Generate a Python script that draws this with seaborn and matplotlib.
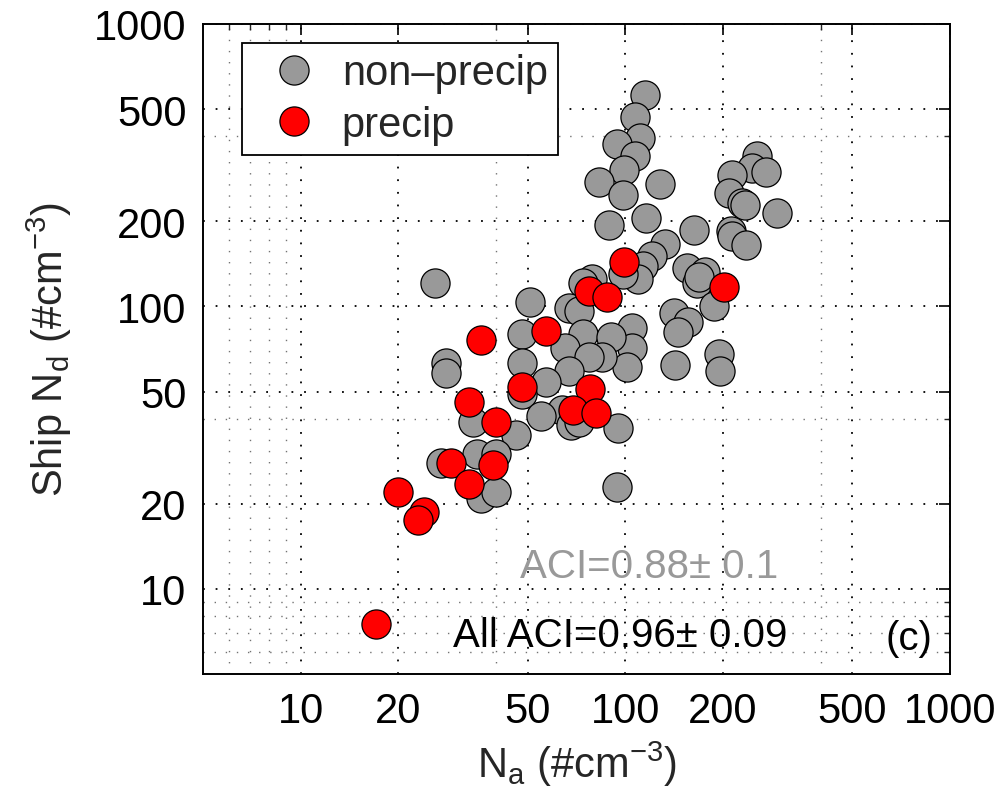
import numpy as np
import pandas as pd
import matplotlib
matplotlib.use("Agg")
import matplotlib.pyplot as plt
import seaborn as sns

# ---- data ----
nonprecip_na = [115, 107, 111, 94, 107, 99, 83, 128, 98, 116, 89, 163,
                254, 246, 271, 213, 209, 229, 233, 293, 211, 213, 236,
                132, 121, 113, 109, 98, 79, 74, 155, 166, 176, 168, 187, 141,
                156, 145, 105, 105, 101, 142, 194, 196, 95, 94,
                26, 51, 67, 72, 48, 74, 90, 65, 85, 77, 48, 67, 57, 48,
                64, 55, 68, 72, 46, 34, 28, 28, 27, 35, 40, 36, 40]
nonprecip_nd = [560, 467, 396, 375, 340, 304, 276, 271, 248, 206, 195, 186,
                341, 310, 300, 291, 253, 232, 228, 214, 185, 178, 165,
                166, 151, 139, 125, 130, 125, 121, 137, 121, 132, 127, 100, 95,
                88, 81, 84, 71, 61, 62, 68, 59, 37, 23,
                121, 104, 99, 96, 80, 80, 78, 71, 66, 66, 63, 59, 54, 49,
                43, 41, 38, 39, 35, 39, 63, 58, 28, 30, 30, 21, 22]

precip_na = [99, 77, 88, 57, 36, 48, 78, 69, 81, 33, 40, 202, 29, 39, 33, 20, 24, 23, 17]
precip_nd = [144, 113, 108, 82, 76, 52, 51, 43, 42, 46, 39, 117, 28, 27.5, 23.5, 22, 18.7, 17.6, 7.5]

groups = ["non\u2013precip", "precip"]
colors = ["#999999", "#ff0000"]

major_ticks = [10, 20, 50, 100, 200, 500, 1000]
tick_labels = ["10", "20", "50", "100", "200", "500", "1000"]
minor_ticks = [6, 7, 8, 9, 40, 400]

aci_text = "ACI=0.88\u00b1 0.1"
all_aci_text = "All ACI=0.96\u00b1 0.09"
panel_text = "(c)"

# ---- style ----
sns.set_style("white")
plt.rcParams["font.family"] = ["Liberation Sans", "DejaVu Sans"]
plt.rcParams["mathtext.fontset"] = "custom"
plt.rcParams["mathtext.rm"] = "Liberation Sans"
plt.rcParams["mathtext.it"] = "Liberation Sans"

fig = plt.figure(figsize=(10.03, 8.03), dpi=100)
ax = fig.add_axes([203 / 1003, 1 - 675 / 803, (950 - 203) / 1003, (675 - 25) / 803])

df_np = pd.DataFrame({"Na": nonprecip_na, "Nd": nonprecip_nd})
df_p = pd.DataFrame({"Na": precip_na, "Nd": precip_nd})

msize = 440
sns.scatterplot(data=df_np, x="Na", y="Nd", color=colors[0], s=msize,
                edgecolor="black", linewidth=0.9, label=groups[0], ax=ax, zorder=3)
sns.scatterplot(data=df_p, x="Na", y="Nd", color=colors[1], s=msize,
                edgecolor="black", linewidth=0.9, label=groups[1], ax=ax, zorder=4)

ax.set_xscale("log")
ax.set_yscale("log")
ax.set_xlim(5, 1000)
ax.set_ylim(5, 1000)

ax.set_xticks(major_ticks, tick_labels)
ax.set_yticks(major_ticks, tick_labels)
ax.set_xticks(minor_ticks, minor=True)
ax.set_yticks(minor_ticks, minor=True)
ax.xaxis.set_minor_formatter(matplotlib.ticker.NullFormatter())
ax.yaxis.set_minor_formatter(matplotlib.ticker.NullFormatter())

ax.tick_params(which="major", direction="in", top=True, right=True,
               length=8, width=1.2, labelsize=30, pad=12, colors="black")
ax.tick_params(which="minor", direction="in", top=True, right=True,
               length=4, width=1.0)

ax.set_axisbelow(True)
ax.grid(which="major", linestyle=(0, (1, 6)), color="black", linewidth=1.3)
ax.grid(which="minor", linestyle=(0, (1, 7)), color="0.45", linewidth=1.0)

for s in ax.spines.values():
    s.set_visible(True)
    s.set_color("black")
    s.set_linewidth(1.4)

ax.set_xlabel("N$_\\mathregular{a}$ (#cm$^\\mathregular{-3}$)", fontsize=30, labelpad=6)
ax.set_ylabel("Ship N$_\\mathregular{d}$ (#cm$^\\mathregular{-3}$)", fontsize=30, labelpad=14)

ax.text(0.4244, 0.1492, aci_text, transform=ax.transAxes, fontsize=29,
        color="#999999", ha="left", va="baseline")
ax.text(0.3347, 0.0431, all_aci_text, transform=ax.transAxes, fontsize=29,
        color="black", ha="left", va="baseline")
ax.text(0.913, 0.0385, panel_text, transform=ax.transAxes, fontsize=29,
        color="black", ha="left", va="baseline")

leg = ax.legend(loc="upper left", bbox_to_anchor=(0.052, 0.971), borderaxespad=0,
                fontsize=30, frameon=True, fancybox=False, framealpha=1,
                edgecolor="black", borderpad=0.25, labelspacing=0.28,
                handlelength=2.0, handletextpad=0.15, scatterpoints=1,
                scatteryoffsets=[0.5])
leg.get_frame().set_linewidth(1.3)

fig.savefig("out.png", dpi=100)
